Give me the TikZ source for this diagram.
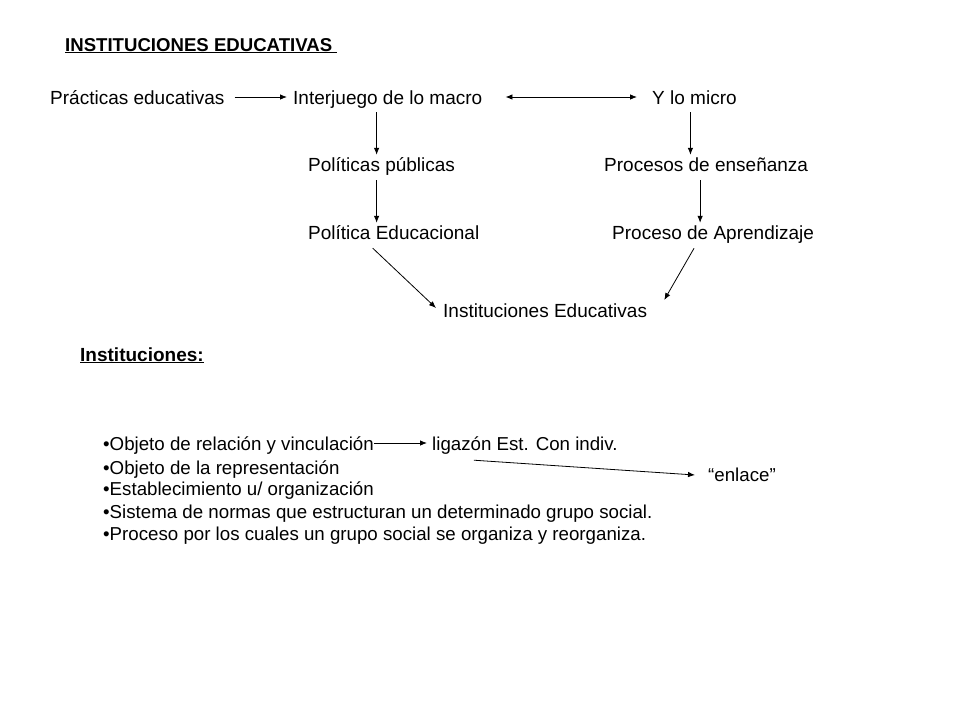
\documentclass[tikz,border=0pt]{standalone}
\usepackage{fontspec}
\setmainfont{Liberation Sans}
\usetikzlibrary{arrows.meta}
\begin{document}
\begin{tikzpicture}[x=1pt,y=-1pt,
    txt/.style={anchor=base west,inner sep=0pt,text height=14pt,text depth=0pt,font=\fontsize{19}{22}\selectfont},
    lst/.style={txt,font=\fontsize{18.7}{22}\selectfont},
    hd/.style={txt,font=\fontsize{18.6}{22}\selectfont\bfseries},
    arr/.style={-{Latex[length=7pt,width=5.5pt]},line width=0.8pt}]
        \fill[white] (0,0) rectangle (960,720);
        \useasboundingbox (0,0) rectangle (960,720);
        \node[hd] (title) at (65,51) {\underline{INSTITUCIONES EDUCATIVAS\ }};
        \node[txt] (pract) at (50,104) {Prácticas educativas};
        \node[txt] (inter) at (293,104) {Interjuego de lo macro};
        \node[txt] (micro) at (652,104) {Y lo micro};
        \node[txt] (pub) at (308,171) {Políticas públicas};
        \node[txt] (ens) at (604,171) {Procesos de enseñanza};
        \node[txt] (educ) at (308,239) {Política Educacional};
        \node[txt] (apr) at (612,239) {Proceso de Aprendizaje};
        \node[txt] (inst) at (443,317) {Instituciones Educativas};
        \node[hd,font=\fontsize{19}{22}\selectfont\bfseries] (instit) at (80,361) {\underline{Instituciones:}};
        % lista
        \node[lst] (b1) at (103,450) {•Objeto de relación y vinculación};
        \node[lst] (b2) at (103,474) {•Objeto de la representación};
        \node[lst] (b3) at (103,495) {•Establecimiento u/ organización};
        \node[lst] (b4) at (103,518) {•Sistema de normas que estructuran un determinado grupo social.};
        \node[lst] (b5) at (103,540) {•Proceso por los cuales un grupo social se organiza y reorganiza.};
        \node[lst] (lig) at (432,450) {ligazón Est. Con indiv.};
        \node[lst] (enl) at (708,481) {“enlace”};
        % flechas
        \draw[arr,shorten <=10pt,shorten >=6pt] (pract) -- (inter);
        \draw[arr,{Latex[length=7pt,width=5.5pt]}-{Latex[length=7pt,width=5.5pt]},shorten <=23pt,shorten >=15pt] (inter.east) -- (micro.west);
        \draw[arr,shorten <=8pt,shorten >=2pt] ([shift={(-5,0)}]pub.north |- inter.south) -- ([shift={(-5,0)}]pub.north);
        \draw[arr,shorten <=9pt,shorten >=2pt] ([shift={(-5,0)}]pub.south) -- ([shift={(-5,0)}]educ.north -| pub.south);
        \draw[arr,shorten <=8pt,shorten >=2pt] ([shift={(-4,0)}]micro.south) -- ([shift={(-4,0)}]micro.south |- ens.north);
        \draw[arr,shorten <=9pt,shorten >=2pt] ([shift={(-6,0)}]ens.south) -- ([shift={(-6,0)}]ens.south |- apr.north);
        \draw[arr] ([shift={(-21,9)}]educ.south) -- ([shift={(-7,-2)}]inst.west);
        \draw[arr] ([shift={(-19,9)}]apr.south) -- ([shift={(17,-10)}]inst.east);
        \draw[arr,shorten >=5pt] (b1.east) -- (lig.west);
        \draw[arr] ([shift={(-51,10)}]lig.south) -- ([shift={(-13,1)}]enl.west);
\end{tikzpicture}
\end{document}
